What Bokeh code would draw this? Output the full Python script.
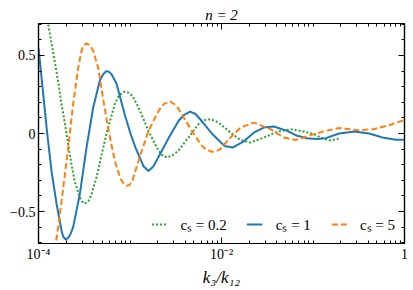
from bokeh.plotting import figure
from bokeh.models import (FixedTicker, LinearAxis, LogAxis, Legend, LegendItem, Range1d)
from bokeh.embed import file_html
from bokeh.resources import INLINE

# ---- data ----
k_cs02 = [1.163e-4, 1.276e-4, 1.387e-4, 1.507e-4, 1.642e-4, 1.783e-4, 1.937e-4, 2.112e-4,
          2.294e-4, 2.492e-4, 2.827e-4, 3.0e-4, 3.206e-4, 3.5e-4, 3.796e-4, 4.305e-4,
          4.883e-4, 5.534e-4, 6.82e-4, 7.6e-4, 8.55e-4, 9.6e-4, 1.065e-3, 1.239e-3,
          1.592e-3, 1.963e-3, 2.2e-3, 2.524e-3, 2.9e-3, 3.388e-3, 4.355e-3, 5.61e-3,
          6.5e-3, 7.53e-3, 8.6e-3, 9.75e-3, 1.254e-2, 1.614e-2, 2.075e-2, 2.899e-2,
          4.06e-2, 5.68e-2, 7.93e-2, 0.1064, 0.1208, 0.155, 0.200]
f_cs02 = [0.85, 0.70, 0.58, 0.46, 0.33, 0.19, 0.07, -0.07, -0.20, -0.31, -0.41, -0.435,
          -0.449, -0.435, -0.39, -0.28, -0.14, 0.0, 0.188, 0.245, 0.267, 0.262, 0.24,
          0.167, 0.017, -0.09, -0.135, -0.154, -0.14, -0.11, -0.026, 0.06, 0.085, 0.092,
          0.08, 0.06, 0.006, -0.042, -0.058, -0.026, 0.011, 0.028, 0.013, -0.008, -0.026,
          -0.045, -0.03]

k_cs1 = [1.0e-4, 1.105e-4, 1.245e-4, 1.387e-4, 1.574e-4, 1.783e-4, 1.862e-4, 1.988e-4,
         2.128e-4, 2.254e-4, 2.393e-4, 2.827e-4, 3.347e-4, 3.963e-4, 4.677e-4, 5.09e-4,
         5.534e-4, 5.89e-4, 6.281e-4, 7.117e-4, 8.77e-4, 1.012e-3, 1.148e-3, 1.336e-3,
         1.405e-3, 1.592e-3, 1.807e-3, 2.049e-3, 2.635e-3, 3.388e-3, 3.9e-3, 4.548e-3,
         5.2e-3, 6.095e-3, 7.834e-3, 1.079e-2, 1.319e-2, 1.754e-2, 2.254e-2, 2.899e-2,
         3.73e-2, 5.22e-2, 6.71e-2, 8.64e-2, 0.1092, 0.138, 0.193, 0.282, 0.411, 0.575,
         0.804, 1.0]
f_cs1 = [0.55, 0.30, 0.0, -0.24, -0.45, -0.62, -0.662, -0.68, -0.667, -0.64, -0.60, -0.39,
         -0.09, 0.167, 0.34, 0.38, 0.40, 0.395, 0.38, 0.32, 0.12, 0.0, -0.09, -0.18, -0.21,
         -0.24, -0.21, -0.15, -0.03, 0.08, 0.12, 0.14, 0.125, 0.08, 0.0, -0.08, -0.09,
         -0.05, 0.005, 0.038, 0.045, 0.017, -0.015, -0.03, -0.035, -0.03, 0.0, 0.013, 0.0,
         -0.026, -0.04, -0.04]

k_cs5 = [1.459e-4, 1.546e-4, 1.642e-4, 1.862e-4, 2.112e-4, 2.393e-4, 2.715e-4, 2.951e-4,
         3.1e-4, 3.347e-4, 3.65e-4, 3.963e-4, 4.49e-4, 5.09e-4, 5.78e-4, 6.82e-4, 7.87e-4,
         8.5e-4, 9.16e-4, 9.9e-4, 1.065e-3, 1.239e-3, 1.592e-3, 2.049e-3, 2.35e-3, 2.75e-3,
         3.2e-3, 3.68e-3, 4.73e-3, 6.095e-3, 6.9e-3, 7.834e-3, 8.8e-3, 9.75e-3, 1.079e-2,
         1.254e-2, 1.614e-2, 2.254e-2, 3.43e-2, 4.80e-2, 6.44e-2, 0.102, 0.138, 0.193,
         0.320, 0.461, 0.647, 1.0]
f_cs5 = [-0.80, -0.70, -0.60, -0.35, -0.09, 0.19, 0.42, 0.53, 0.565, 0.577, 0.565, 0.53,
         0.42, 0.22, 0.03, -0.175, -0.29, -0.32, -0.335, -0.33, -0.30, -0.175, 0.017,
         0.145, 0.19, 0.205, 0.18, 0.124, 0.017, -0.079, -0.105, -0.117, -0.113, -0.10,
         -0.068, -0.026, 0.038, 0.07, 0.028, -0.026, -0.042, -0.004, 0.017, 0.035, 0.02,
         0.028, 0.05, 0.086]

legend_labels = ["cₛ = 0.2", "cₛ = 1", "cₛ = 5"]
x_major = [1e-4, 1e-2, 1.0]
x_major_labels = ["10⁻⁴", "10⁻²", "1"]
y_major = [-0.5, 0.0, 0.5]
y_major_labels = ["−0.5", "0", "0.5"]
y_minor = [-0.7, -0.6, -0.4, -0.3, -0.2, -0.1, 0.1, 0.2, 0.3, 0.4, 0.6, 0.7]
x_minor = [m * 10.0 ** e for e in range(-4, 0) for m in range(1, 10)]

FONT = "Liberation Serif"

p = figure(width=412, height=289, x_axis_type="log",
           x_range=Range1d(1e-4, 1.0), y_range=Range1d(-0.705, 0.705),
           output_backend="svg", toolbar_location=None,
           min_border_left=38, min_border_right=8, min_border_top=23,
           min_border_bottom=46, background_fill_color="white",
           border_fill_color="white")
p.xgrid.visible = False
p.ygrid.visible = False
p.outline_line_color = "black"
p.outline_line_width = 1.2

p.title.text = "n = 2"
p.title.align = "center"
p.title.text_font = FONT
p.title.text_font_size = "15px"
p.title.text_font_style = "italic"
p.title.text_color = "black"
p.title.standoff = 2

xt = FixedTicker(ticks=x_major, minor_ticks=x_minor)
yt = FixedTicker(ticks=y_major, minor_ticks=y_minor)


def style(ax, ticker):
    ax.ticker = ticker
    ax.major_tick_in = 6
    ax.major_tick_out = 0
    ax.minor_tick_in = 3
    ax.minor_tick_out = 0
    ax.axis_line_color = "black"
    ax.axis_line_width = 1.2
    ax.major_tick_line_color = "black"
    ax.minor_tick_line_color = "black"
    ax.major_tick_line_width = 1
    ax.minor_tick_line_width = 1
    ax.major_label_text_font = FONT
    ax.major_label_text_font_size = "14px"
    ax.major_label_text_color = "black"


xa = p.xaxis[0]
style(xa, xt)
xa.major_label_overrides = dict(zip(x_major, x_major_labels))
xa.major_label_standoff = 3
xa.axis_label = "k₃/k₁₂"
xa.axis_label_text_font = FONT
xa.axis_label_text_font_size = "17px"
xa.axis_label_text_font_style = "italic"
xa.axis_label_text_color = "black"
xa.axis_label_standoff = 3

ya = p.yaxis[0]
style(ya, yt)
ya.major_label_overrides = dict(zip(y_major, y_major_labels))
ya.major_label_standoff = 3

top = LogAxis()
style(top, xt)
top.major_label_text_font_size = "1px"
top.major_label_text_color = None
top.major_label_standoff = 0
p.add_layout(top, "above")

right = LinearAxis()
style(right, yt)
right.major_label_text_font_size = "1px"
right.major_label_text_color = None
right.major_label_standoff = 0
p.add_layout(right, "right")

r_g = p.line(k_cs02, f_cs02, line_color="#2ca02c", line_width=2, line_dash="2 2")
r_b = p.line(k_cs1, f_cs1, line_color="#1f77b4", line_width=2)
r_o = p.line(k_cs5, f_cs5, line_color="#ff7f0e", line_width=2, line_dash="6 3")

legend = Legend(items=[LegendItem(label=legend_labels[0], renderers=[r_g]),
                       LegendItem(label=legend_labels[1], renderers=[r_b]),
                       LegendItem(label=legend_labels[2], renderers=[r_o])],
                orientation="horizontal", location="bottom_right",
                label_text_font=FONT, label_text_font_size="15px",
                label_text_color="black",
                glyph_width=16, glyph_height=12, label_standoff=13, spacing=20,
                padding=2, margin=9, border_line_color=None,
                background_fill_alpha=0)
p.add_layout(legend)

open("out.html", "w").write(file_html(p, INLINE))
